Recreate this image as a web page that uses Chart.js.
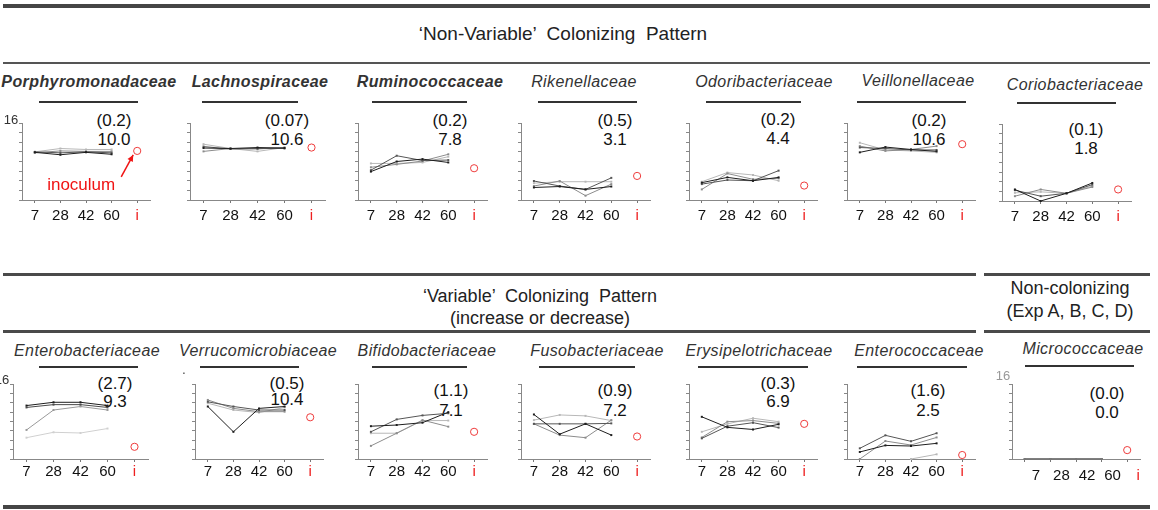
<!DOCTYPE html>
<html>
<head>
<meta charset="utf-8">
<script src="https://cdn.jsdelivr.net/npm/chart.js@4.4.0/dist/chart.umd.min.js"></script>
<style>
  html, body { margin: 0; padding: 0; background: #fff; }
  #page { position: relative; width: 1158px; height: 510px; overflow: hidden;
          font-family: "Liberation Sans", Arial, sans-serif; color: #111; }
  #page canvas { position: absolute; }
  .txt { position: absolute; white-space: nowrap; line-height: 1; transform: translate(-50%, -50%); }
  .fam { font-size: 16px; font-style: italic; letter-spacing: 0.4px; color: #333; }
  .fam.bold { font-weight: bold; }
  .stat { font-size: 17px; color: #111; }
  .head { font-size: 18px; color: #222; }
  .rule { position: absolute; background: #444; }
</style>
</head>
<body>
<div id="page"></div>
<script>
// x axis: sampling day, 'i' = inoculum
const days = ['7', '28', '42', '60', 'i'];
const expNames = ['Exp A', 'Exp B', 'Exp C', 'Exp D'];
const expColors = ['#1e1e1e', '#565656', '#8c8c8c', '#b8b8b8'];

// 'Non-Variable' colonizing families
const topFamilies = ['Porphyromonadaceae', 'Lachnospiraceae', 'Ruminococcaceae', 'Rikenellaceae',
                     'Odoribacteriaceae', 'Veillonellaceae', 'Coriobacteriaceae'];
const topBold = [true, true, true, false, false, false, false];
const topSd = ['(0.2)', '(0.07)', '(0.2)', '(0.5)', '(0.2)', '(0.2)', '(0.1)'];
const topMean = ['10.0', '10.6', '7.8', '3.1', '4.4', '10.6', '1.8'];
const topInoculum = [10.2, 10.9, 6.6, 5.0, 3.0, 11.6, 2.4];

// 'Variable' and non-colonizing families
const bottomFamilies = ['Enterobacteriaceae', 'Verrucomicrobiaceae', 'Bifidobacteriaceae', 'Fusobacteriaceae',
                        'Erysipelotrichaceae', 'Enterococcaceae', 'Micrococcaceae'];
const bottomSd = ['(2.7)', '(0.5)', '(1.1)', '(0.9)', '(0.3)', '(1.6)', '(0.0)'];
const bottomMean = ['9.3', '10.4', '7.1', '7.2', '6.9', '2.5', '0.0'];
const bottomInoculum = [2.6, 8.9, 5.8, 4.8, 7.5, 0.85, 1.9];

// per family: one row per experiment (A..D), values at days 7, 28, 42, 60
const porphyromonadaceae = [[9.9, 9.4, 9.9, 9.5], [10.0, 9.8, 10.0, 9.8], [9.8, 10.2, 10.1, 10.1], [10.0, 10.7, 10.5, 10.5]];
const lachnospiraceae = [[10.8, 10.7, 10.9, 10.8], [11.1, 10.6, 10.7, 10.7], [10.1, 10.7, 10.6, 10.9], [11.6, 10.7, 10.1, 10.9]];
const ruminococcaceae = [[5.9, 8.0, 8.5, 7.8], [6.2, 9.2, 8.2, 8.3], [6.8, 7.4, 8.1, 9.5], [7.6, 7.6, 7.8, 9.0]];
const rikenellaceae = [[2.6, 2.8, 2.2, 2.8], [3.95, 2.9, 2.2, 4.6], [2.9, 3.95, 0.9, 3.3], [3.5, 3.8, 3.8, 3.8]];
const odoribacteriaceae = [[3.6, 4.7, 4.0, 4.7], [3.3, 4.15, 4.0, 6.1], [2.2, 5.5, 4.3, 4.5], [3.8, 5.7, 5.2, 4.0]];
const veillonellaceae = [[9.9, 11.0, 10.5, 10.1], [10.9, 10.7, 10.4, 10.4], [11.2, 10.2, 10.5, 11.2], [11.9, 10.4, 10.2, 9.9]];
const coriobacteriaceae = [[2.4, 0, 1.6, 3.75], [2.25, 1.0, 1.6, 3.4], [1.0, 2.4, 1.6, 2.9], [1.7, 1.9, 1.6, 3.1]];

const enterobacteriaceae = [[11.4, 12.1, 12.1, 11.4], [11.0, 11.6, 11.6, 11.0], [6.2, 10.45, 11.2, 10.45], [4.55, 5.7, 5.55, 6.5]];
const verrucomicrobiaceae = [[11.2, 5.8, 10.8, 11.2], [12.2, 11.2, 10.45, 10.45], [12.6, 10.8, 10.1, 10.1], [11.9, 10.45, 9.9, 11.0]];
const bifidobacteriaceae = [[7.0, 7.25, 7.75, 10.0], [5.8, 8.45, 9.3, 9.75], [2.8, 5.5, 8.3, 6.9], [5.5, 5.5, 8.2, 8.2]];
const fusobacteriaceae = [[9.5, 5.3, 7.5, 5.1], [7.5, 7.5, 7.5, 7.6], [7.5, 5.1, 4.55, 8.3], [8.3, 9.4, 9.2, 8.2]];
const erysipelotrichaceae = [[9.0, 6.75, 6.3, 7.4], [4.4, 7.0, 7.75, 6.7], [4.6, 7.96, 8.2, 7.6], [5.8, 7.5, 8.7, 7.96]];
const enterococcaceae = [[1.5, 2.9, 2.77, 3.34], [2.28, 5.05, 3.77, 5.5], [0, 3.84, 2.98, 4.6], [null, null, 0, 1.0]];
const micrococcaceae = [[0, 0, 0, 0], [0, 0, 0, 0], [0, 0, 0, 0], [0, 0, 0, 0]];

const topData = [porphyromonadaceae, lachnospiraceae, ruminococcaceae, rikenellaceae,
                 odoribacteriaceae, veillonellaceae, coriobacteriaceae];
const bottomData = [enterobacteriaceae, verrucomicrobiaceae, bifidobacteriaceae, fusobacteriaceae,
                    erysipelotrichaceae, enterococcaceae, micrococcaceae];

// ---- layout (pixels) ----
const page = document.getElementById('page');
const Y_AXIS_W = 4, PAD_TOP = 6, PAD_RIGHT = 6, X_AXIS_H = 30;

function addText(text, cx, cy, cls, extra) {
  const d = document.createElement('div');
  d.className = 'txt ' + cls;
  d.textContent = text;
  d.style.left = cx + 'px';
  d.style.top = cy + 'px';
  if (extra) Object.assign(d.style, extra);
  page.appendChild(d);
  return d;
}

function addRule(x1, x2, y, h, color) {
  const d = document.createElement('div');
  d.className = 'rule';
  d.style.left = x1 + 'px';
  d.style.width = (x2 - x1) + 'px';
  d.style.top = y + 'px';
  d.style.height = h + 'px';
  if (color) d.style.background = color;
  page.appendChild(d);
}

// red "inoculum" note with an arrow pointing at the inoculum marker
const inoculumNote = {
  id: 'inoculumNote',
  afterDatasetsDraw(chart) {
    const { ctx, scales: { x, y } } = chart;
    const px = x.getPixelForValue(4);
    const py = y.getPixelForValue(chart.data.datasets[4].data[4]);
    ctx.save();
    ctx.strokeStyle = '#f01414';
    ctx.fillStyle = '#f01414';
    ctx.lineWidth = 1.5;
    const tx = px - 4, ty = py + 4;
    const sx = px - 16, sy = py + 26;
    ctx.beginPath();
    ctx.moveTo(sx, sy);
    ctx.lineTo(tx, ty);
    ctx.stroke();
    const ang = Math.atan2(ty - sy, tx - sx);
    ctx.beginPath();
    ctx.moveTo(tx, ty);
    ctx.lineTo(tx - 7 * Math.cos(ang - 0.45), ty - 7 * Math.sin(ang - 0.45));
    ctx.lineTo(tx - 7 * Math.cos(ang + 0.45), ty - 7 * Math.sin(ang + 0.45));
    ctx.closePath();
    ctx.fill();
    ctx.font = '17px "Liberation Sans", Arial, sans-serif';
    ctx.textAlign = 'center';
    ctx.textBaseline = 'middle';
    ctx.fillText('inoculum', px - 56, py + 34);
    ctx.restore();
  }
};

function makePanel(series, inoculum, axisX, areaTop, areaW, areaH, opts) {
  const canvas = document.createElement('canvas');
  const w = Y_AXIS_W + areaW + PAD_RIGHT;
  const h = PAD_TOP + areaH + X_AXIS_H;
  canvas.width = w;
  canvas.height = h;
  canvas.style.left = (axisX - Y_AXIS_W) + 'px';
  canvas.style.top = (areaTop - PAD_TOP) + 'px';
  canvas.style.width = w + 'px';
  canvas.style.height = h + 'px';
  page.appendChild(canvas);

  const colors = opts.colors || expColors;
  const datasets = series.map((vals, k) => ({
    label: expNames[k],
    data: vals.concat([null]),
    borderColor: colors[k],
    backgroundColor: colors[k],
    borderWidth: 1,
    pointRadius: 1.4,
    pointBorderWidth: 0,
    pointStyle: 'rect',
    tension: 0,
    clip: 4
  }));
  datasets.push({
    label: 'inoculum',
    data: [null, null, null, null, inoculum],
    showLine: false,
    pointStyle: 'circle',
    pointRadius: 3.6,
    borderWidth: 1,
    borderColor: '#ee3b3b',
    backgroundColor: 'rgba(255,255,255,0)',
    clip: false
  });

  return new Chart(canvas, {
    type: 'line',
    data: { labels: days, datasets },
    options: {
      responsive: false,
      animation: false,
      devicePixelRatio: 1,
      layout: { padding: { top: PAD_TOP, right: PAD_RIGHT, left: 0, bottom: 0 } },
      plugins: { legend: { display: false }, tooltip: { enabled: false } },
      scales: {
        x: {
          type: 'category',
          offset: true,
          grid: { display: true, drawOnChartArea: false, drawTicks: true, tickLength: 3, offset: false, color: '#777' },
          border: { display: true, color: '#888', width: 1 },
          ticks: {
            padding: opts.labelPad,
            labelOffset: opts.labelOffset || 0,
            autoSkip: false,
            maxRotation: 0,
            font: { family: '"Liberation Sans", Arial, sans-serif', size: 15 },
            color: c => (c.index === 4 ? '#ee2020' : '#111')
          },
          afterFit: s => { s.height = X_AXIS_H; }
        },
        y: {
          min: 0,
          max: 16,
          grid: { display: true, drawOnChartArea: false, drawTicks: true, tickLength: 3, color: '#888' },
          border: { display: true, color: '#888', width: 1 },
          ticks: { display: false, stepSize: 2 },
          afterFit: s => { s.width = Y_AXIS_W; }
        }
      }
    },
    plugins: opts.note ? [inoculumNote] : []
  });
}

// ---- section rules and headers ----
addRule(3, 1150, 4, 4, '#454545');
addRule(3, 1150, 62, 2, '#555');
addText('\u2018Non-Variable\u2019  Colonizing  Pattern', 563, 33, 'head', { whiteSpace: 'pre', fontSize: '19px' });

addRule(3, 976, 273, 3, '#4a4a4a');
addRule(984, 1150, 273, 3, '#4a4a4a');
addText('\u2018Variable\u2019  Colonizing  Pattern', 540, 296, 'head', { whiteSpace: 'pre' });
addText('(increase or decrease)', 540, 318, 'head');
addText('Non-colonizing', 1070, 288, 'head');
addText('(Exp A, B, C, D)', 1070, 311, 'head');
addRule(3, 976, 330, 3, '#4a4a4a');
addRule(984, 1150, 330, 3, '#4a4a4a');
addRule(3, 1150, 505, 4, '#454545');

// ---- 'Non-Variable' row ----
const topAxisX = [21, 189, 357, 520, 688, 846, 1001];
const topAreaW = [129, 136, 130, 130, 129, 129, 130];
const topTitleX = [89, 260, 430, 584, 764, 918, 1075];
const topTitleY = [82, 82, 82, 82, 82, 81, 85];
const topBar = [[39, 138], [202, 298], [372, 467], [538, 637], [706, 801], [857, 966], [1017, 1116]];
const topStatX = [114, 287, 450, 615, 778, 929, 1086];
const topStatY = [120, 120, 120, 120, 119, 120, 129];

topFamilies.forEach((name, i) => {
  addText(name, topTitleX[i], topTitleY[i], topBold[i] ? 'fam bold' : 'fam');
  addRule(topBar[i][0], topBar[i][1], i === 6 ? 102 : 101, 1.5, '#333');
  addText(topSd[i], topStatX[i], topStatY[i], 'stat');
  addText(topMean[i], topStatX[i], topStatY[i] + 19, 'stat');
  const areaTop = i === 6 ? 124 : 123;
  makePanel(topData[i], topInoculum[i], topAxisX[i], areaTop, topAreaW[i], 77,
            { labelPad: 4, note: i === 0 });
});
addText('16', 11, 119, 'stat', { fontSize: '13px', color: '#333' });

// ---- 'Variable' and non-colonizing row ----
const bottomAxisX = [12, 194, 357, 520, 688, 846, 1011];
const bottomAreaW = [136, 129, 130, 130, 129, 129, 129];
const bottomTitleX = [87, 258, 427, 597, 759, 919, 1083];
const bottomTitleY = [351, 351, 351, 351, 351, 351, 349];
const bottomBar = [[39, 138], [200, 299], [372, 467], [539, 635], [698, 808], [857, 967], [1025, 1134]];
const bottomStatX = [115, 287, 451, 615, 778, 928, 1107];
const bottomStatY = [383, 383, 390, 390, 383, 390, 393];
const bottomMeanDy = [18, 16, 20, 20, 18, 20, 19];
const enteroColors = ['#1e1e1e', '#4a4a4a', '#9a9a9a', '#d0d0d0'];
const flatColors = ['#777', '#777', '#777', '#777'];

bottomFamilies.forEach((name, i) => {
  addText(name, bottomTitleX[i], bottomTitleY[i], 'fam');
  addRule(bottomBar[i][0], bottomBar[i][1], i === 6 ? 365 : 366, 1.5, '#333');
  addText(bottomSd[i], bottomStatX[i], bottomStatY[i], 'stat');
  addText(bottomMean[i], bottomStatX[i], bottomStatY[i] + bottomMeanDy[i], 'stat');
  makePanel(bottomData[i], bottomInoculum[i], bottomAxisX[i], 384, bottomAreaW[i], 75,
            { labelPad: i === 6 ? 5 : 1, labelOffset: i === 6 ? 11 : 0,
              colors: i === 0 ? enteroColors : (i === 6 ? flatColors : null) });
});
addText('16', 2, 379, 'stat', { fontSize: '13px', color: '#333' });
addText('16', 1003, 375, 'stat', { fontSize: '13px', color: '#999' });
addText('.', 184, 370, 'stat', { fontSize: '12px', color: '#333' });
</script>
</body>
</html>
